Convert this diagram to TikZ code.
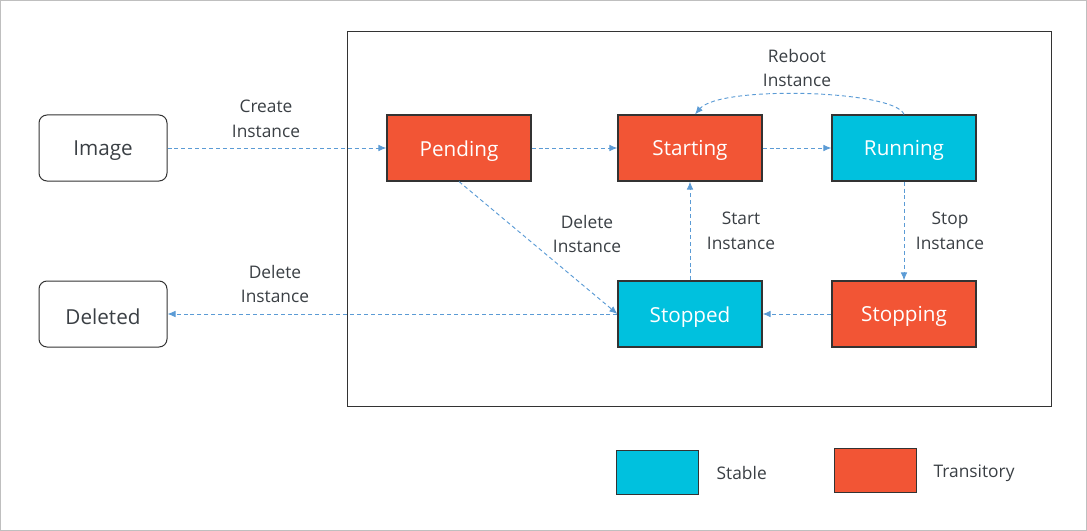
\documentclass[tikz,border=0pt]{standalone}
\usepackage{fontspec}
\setmainfont{Open Sans}
\usetikzlibrary{arrows.meta}
\definecolor{tred}{HTML}{F25535}
\definecolor{tcyan}{HTML}{00C1DE}
\definecolor{arr}{HTML}{5B9BD5}
\definecolor{txt}{HTML}{3A3F44}
\definecolor{edge}{HTML}{333333}
\newcommand{\lowr}[1]{\raisebox{-2pt}[\height][\depth]{#1}}
\begin{document}
\begin{tikzpicture}[x=0.75pt,y=-0.75pt,
  state/.style={draw=edge,line width=0.9pt,minimum width=108pt,minimum height=49.5pt,inner sep=0pt,font=\fontsize{15.5}{17}\selectfont,text=white},
  transit/.style={state,fill=tred},
  stable/.style={state,fill=tcyan},
  ext/.style={draw=edge,line width=0.75pt,rounded corners=6pt,minimum width=96pt,minimum height=49.5pt,inner sep=0pt,font=\fontsize{15.5}{17}\selectfont,text=txt},
  conn/.style={draw=arr,line width=0.7pt,dash pattern=on 3pt off 2.2pt,-{Latex[length=6pt,width=5pt]}},
  lab/.style={font=\fontsize{13}{18.5}\selectfont,text=txt,align=center},
  legbox/.style={draw=edge,line width=0.9pt,minimum width=62pt,minimum height=33pt,inner sep=0pt}]
\useasboundingbox (0,0) rectangle (1087,531);
\draw[draw=black!25,line width=0.75pt] (0.5,0.5) rectangle (1086.5,530.5);
\draw[draw=edge,line width=0.75pt] (347,32) rectangle (1051,406);

\node[ext] (image) at (103,148) {\lowr{Image}};
\node[ext] (deleted) at (103,314) {\lowr{Deleted}};
\node[transit] (pending) at (459,148) {\lowr{Pending}};
\node[transit] (starting) at (690,148) {\lowr{Starting}};
\node[stable] (running) at (904,148) {\lowr{Running}};
\node[stable] (stopped) at (690,314) {\lowr{Stopped}};
\node[transit] (stopping) at (904,314) {\lowr{Stopping}};

\draw[conn] (image) -- (pending);
\draw[conn] (pending) -- (starting);
\draw[conn] (starting) -- (running);
\draw[conn] (running) -- (stopping);
\draw[conn] (stopping) -- (stopped);
\draw[conn] (stopped) -- (starting);
\draw[conn] (pending.south) -- (stopped.west);
\draw[conn] (stopped) -- (deleted);
\draw[conn] (running.north) .. controls (895,90) and (720,85) .. ([xshift=3.75pt]starting.north);

\node[lab] (l1) at (266,119) {Create\\Instance};
\node[lab] (l2) at (797,68) {Reboot\\Instance};
\node[lab] (l3) at (587,234) {Delete\\Instance};
\node[lab] (l4) at (741,231) {Start\\Instance};
\node[lab] (l5) at (950,231) {Stop\\Instance};
\node[lab] (l6) at (275,284) {Delete\\Instance};

\node[legbox,fill=tcyan] (lstable) at (657.5,472.5) {};
\node[legbox,fill=tred] (ltrans) at (875.5,470.5) {};
\node[lab,anchor=west] (tstable) at (712,473) {Stable};
\node[lab,anchor=west] (ttrans) at (929,473) {Transitory};
\end{tikzpicture}
\end{document}
